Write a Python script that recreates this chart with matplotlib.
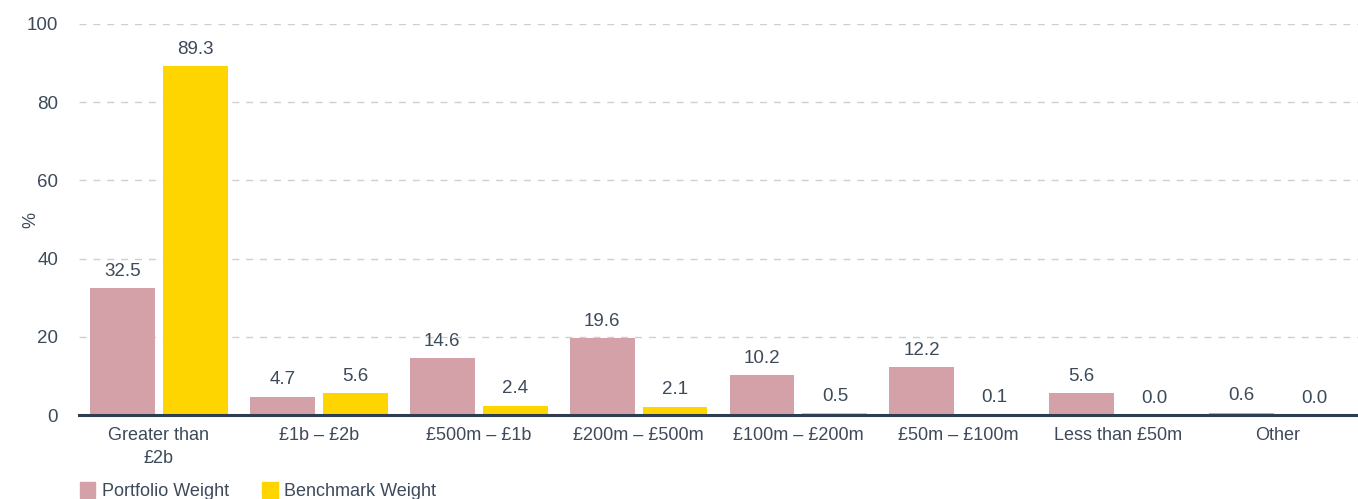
import matplotlib
matplotlib.use("Agg")
import matplotlib.pyplot as plt
from matplotlib.patches import Patch
import numpy as np

categories = ["Greater than\n£2b", "£1b – £2b", "£500m – £1b", "£200m – £500m",
              "£100m – £200m", "£50m – £100m", "Less than £50m", "Other"]
portfolio = [32.5, 4.7, 14.6, 19.6, 10.2, 12.2, 5.6, 0.6]
benchmark = [89.3, 5.6, 2.4, 2.1, 0.5, 0.1, 0.0, 0.0]
series_names = ["Portfolio Weight", "Benchmark Weight"]
y_ticks = [0, 20, 40, 60, 80, 100]

PINK = "#d5a1a8"
YELLOW = "#ffd500"
TEXT = "#3d4a5a"

plt.rcParams["font.family"] = ["Liberation Sans", "DejaVu Sans"]

fig = plt.figure(figsize=(13.58, 4.99), dpi=100)
ax = fig.add_axes([79 / 1358, 1 - 415 / 499, 1 - 79 / 1358, (415 - 24) / 499])

x = np.arange(len(categories))
w = 0.406
off = 0.228
b1 = ax.bar(x - off, portfolio, w, color=PINK, zorder=3)
b2 = ax.bar(x + off, benchmark, w, color=YELLOW, zorder=3)

for bars, vals in ((b1, portfolio), (b2, benchmark)):
    for rect, v in zip(bars, vals):
        ax.annotate(f"{v:.1f}", (rect.get_x() + rect.get_width() / 2, v),
                    xytext=(0, 6), textcoords="offset points",
                    ha="center", va="bottom", fontsize=13.5, color=TEXT)

ax.set_xlim(-0.5, len(categories) - 0.5)
ax.set_ylim(0, 100)
ax.set_yticks(y_ticks)
ax.set_xticks(x)
ax.set_xticklabels(categories, fontsize=13, color=TEXT, linespacing=1.4)
ax.tick_params(axis="y", labelsize=13.5, labelcolor=TEXT, length=0, pad=15)
ax.tick_params(axis="x", length=0, pad=9)
ax.grid(axis="y", color="#cfcfcf", linestyle=(0, (5, 5)), linewidth=1, zorder=0)

for s in ("top", "right", "left"):
    ax.spines[s].set_visible(False)
ax.spines["bottom"].set_color("#2c3e50")
ax.spines["bottom"].set_linewidth(2.2)
ax.spines["bottom"].set_zorder(4)

ax.set_ylabel("%", fontsize=13, color=TEXT)
ax.yaxis.set_label_coords(-0.031, 0.5)

handles = [Patch(color=PINK), Patch(color=YELLOW)]
fig.legend(handles, series_names, loc="lower left", bbox_to_anchor=(0.047, -0.035),
           ncol=2, frameon=False, fontsize=13, labelcolor=TEXT,
           handlelength=0.85, handleheight=1.0, handletextpad=0.35, columnspacing=1.85)

fig.savefig("out.png", dpi=100)
